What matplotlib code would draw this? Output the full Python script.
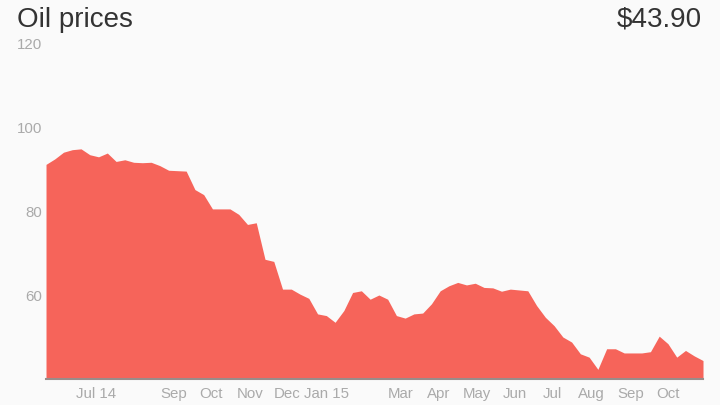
import matplotlib
matplotlib.use('Agg')
import matplotlib.pyplot as plt
import pandas as pd

plt.rcParams['font.family'] = ['Liberation Sans', 'DejaVu Sans']

# Недельные цены на нефть, $
prices = [
    91.1, 92.4, 94.0, 94.6, 94.8, 93.4, 92.9, 93.8, 91.8, 92.2,
    91.6, 91.5, 91.6, 90.8, 89.7, 89.6, 89.5, 85.1, 83.9, 80.5,
    80.5, 80.5, 79.2, 76.8, 77.2, 68.5, 68.0, 61.4, 61.4, 60.2,
    59.2, 55.5, 55.1, 53.5, 56.3, 60.6, 61.0, 59.0, 60.0, 59.0,
    55.1, 54.5, 55.5, 55.7, 57.9, 61.0, 62.2, 63.0, 62.4, 62.8,
    61.8, 61.7, 60.9, 61.4, 61.2, 61.0, 57.5, 54.7, 52.7, 50.0,
    48.8, 46.0, 45.2, 42.3, 47.2, 47.2, 46.2, 46.2, 46.2, 46.5,
    50.2, 48.4, 45.2, 46.8, 45.5, 44.4,
]
dates = pd.date_range('2014-05-22', periods=len(prices), freq='7D')

tick_dates = pd.to_datetime([
    '2014-07-01', '2014-09-01', '2014-10-01', '2014-11-01', '2014-12-01',
    '2015-01-01', '2015-03-01', '2015-04-01', '2015-05-01', '2015-06-01',
    '2015-07-01', '2015-08-01', '2015-09-01', '2015-10-01',
])
tick_labels = ['Jul 14', 'Sep', 'Oct', 'Nov', 'Dec', 'Jan 15', 'Mar', 'Apr',
               'May', 'Jun', 'Jul', 'Aug', 'Sep', 'Oct']
y_ticks = [60, 80, 100, 120]

title = 'Oil prices'
last_price = r'\$43.90'

bg = '#fafafa'
fig = plt.figure(figsize=(7.2, 4.05), dpi=100, facecolor=bg)
ax = fig.add_axes([0.0639, 0.0642, 0.9125, 0.8296], facecolor=bg)

ax.fill_between(dates, prices, 40, color='#f6645a', lw=0)
ax.set_xlim(dates[0], dates[-1])
ax.set_ylim(40, 120)

ax.set_xticks(tick_dates)
ax.set_xticklabels(tick_labels)
ax.set_yticks(y_ticks)

for s in ['top', 'right', 'left']:
    ax.spines[s].set_visible(False)
ax.spines['bottom'].set_color('#9a8c8a')
ax.spines['bottom'].set_linewidth(1.5)

ax.tick_params(axis='both', length=0, colors='#aaaaaa', labelsize=10.8)
ax.tick_params(axis='x', pad=6)
ax.tick_params(axis='y', pad=3)

fig.text(17 / 720, 1 - 26.7 / 405, title, ha='left', va='baseline',
         fontsize=20, color='#333333')
fig.text(702 / 720, 1 - 26.7 / 405, last_price, ha='right', va='baseline',
         fontsize=20, color='#333333')

fig.savefig('out.png', dpi=100, facecolor=bg)
